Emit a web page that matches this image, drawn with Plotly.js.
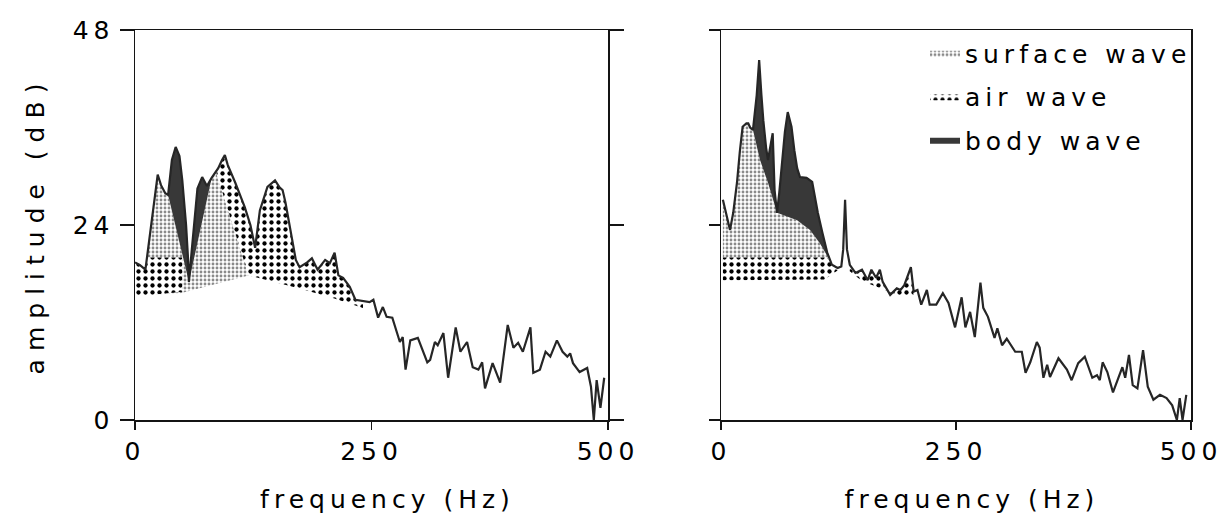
<!DOCTYPE html>
<html>
<head>
<meta charset="utf-8">
<script src="https://cdn.plot.ly/plotly-3.0.1.min.js"></script>
<style>
  html, body { margin: 0; padding: 0; background: #fff; }
  svg text { letter-spacing: 5px; }
  svg text.ytitle { letter-spacing: 8px; }
  #plot .g-xtitle text, #plot .g-x2title text { transform: translateX(16px); }
</style>
</head>
<body>
<div id="plot" style="width:1226px;height:523px;"></div>
<script>
// ---------- Left panel: spectrum ----------
const leftFreq = [0,5,11,16,21,24,27.5,32,35,39,43,47,50,54,56,57,60,63,66,71,76,81,88,92,95,98,106,116,122,127,132,140,148,153,156,159,164,170,174,182,187,193,201,206,211,215,220,227,233,241,248,252,257,262,266,272,280,283,286,291,299,309,312,317,320,326,331,339,344,351,357,363,367,370,378,386,394,400,405,410,418,421,428,434,439,446,452,457,460,463,470,478,482,485,488,492,496];
const leftAmp  = [19.4,19.1,18.5,22.8,27.7,30.2,28.9,27.9,27.7,32,33.6,32.5,29.5,24,20,17,20.9,25,28.5,29.9,28.8,29.8,31,32,32.6,31.4,29.2,26.2,24,21.2,25.8,28.7,29.5,28.6,28.3,26.8,23.4,19.7,18.8,19.4,19.9,18.5,19.7,19.3,20.6,17.8,17.5,16.4,14.8,14.6,14.5,14.8,12.6,13.9,12.7,12.6,9.6,10.2,6.2,9.8,10.1,7.1,7.4,9.6,9.2,10.7,5.2,11.4,8.4,9.6,6.5,6.2,7.1,3.9,7,4.6,11.7,8.9,9.5,8.4,11.4,5.8,6.2,8.4,7.8,9.8,8.4,7.8,8.2,7,5.9,6.4,4.1,0,4.9,1.5,5.2];

// Left panel wave regions (outline vertices, Hz / dB)
const leftSurfaceF = [11,16,21,24,27.5,32,35,57,81,86,120,48,11];
const leftSurfaceA = [18.5,22.8,27.7,30.2,28.9,27.9,27.7,17,29.8,30.4,17.8,15.6,15.4];
const leftAir1F = [0.5,5,11,13.5,50,50,0.5];
const leftAir1A = [19.3,19.1,18.5,20,20,15.8,15.2];
const leftAir2F = [86,88,92,95,98,106,116,122,127,132,140,148,153,156,159,164,170,174,182,187,193,201,206,211,215,220,227,233,241,241,210,174,120];
const leftAir2A = [30.4,31,32,32.6,31.4,29.2,26.2,24,21.2,25.8,28.7,29.5,28.6,28.3,26.8,23.4,19.7,18.8,19.4,19.9,18.5,19.7,19.3,20.6,17.8,17.5,16.4,14.8,14.6,13.8,15,16.2,17.8];
const leftBody1F = [35,39,43,47,50,54,56,57];
const leftBody1A = [27.7,32,33.6,32.5,29.5,24,20,17];
const leftBody2F = [57,60,63,66,71,76,81];
const leftBody2A = [17,20.9,25,28.5,29.9,28.8,29.8];

// ---------- Right panel: spectrum ----------
const rightFreq = [2,6,9.6,13,17,20,23,27,29,31,34,38,40.6,43,45,48,50,53,55,57,59.6,62,65,68,71,75,78,81,84,91,97,100,103,108,113,118,124,128,130,132,134,137,143,150,156,160,165,169,172,180,187,191,195,202,205,209,213,219,222,229,236,242,249,256,260,265,270,276,279,284,291,294,299,304,313,320,324,329,336,339,343,347,350,359,368,373,380,387,395,400,403,406,411,417,427,430,434,438,443,449,454,460,467,474,480,485,488,491,495];
const rightAmp  = [27.1,25,23.4,25.5,29.2,33,36.1,36.5,36.5,36,35.7,40,44.3,40,36.9,33.5,32,34,35.3,28.3,25.5,28,31.6,35.5,37.9,36.1,33.2,31,29.9,29.8,29.3,27.5,25.5,23,20.6,19.1,18.7,18.9,21,27.1,21,19.1,18.1,18.5,17.2,18.5,17.5,18.5,17,15.4,16.2,16,16.6,18.8,15.8,16,14.2,16,14.2,14.2,15.6,14.4,11.4,15.1,11.4,13.3,10.2,16.9,13.8,12.7,10.1,11.3,9.2,10,8.4,8.4,5.8,7.1,9.6,8.9,5.2,6.8,5.3,7.6,6.2,4.9,7,7.8,5.2,5.5,4.9,7.1,5.9,3.4,6.5,5.2,8,4.3,3.9,8.6,4.1,2.5,3.1,2.7,1.8,0,2.7,0,3.1];

// Right panel wave regions
const rightSurfaceF = [2,6,9.6,13,17,20,23,27,29,31,34,41.5,50,59.6,66,81,94.7,105,114,114,2];
const rightSurfaceA = [27.1,25,23.4,25.5,29.2,33,36.1,36.5,36.5,36,35.7,32,29.2,25.5,25.3,24.6,23.4,21.8,20,19.5,19.5];
const rightAir1F = [2,113,119,124,110,2];
const rightAir1A = [20,20,19,18.4,17.3,17.2];
const rightAir2F = [137,143,150,156,160,165,169,172,180,187,191,195,202,205,205,190,170,150,137];
const rightAir2A = [19.1,18.1,18.5,17.2,18.5,17.5,18.5,17,15.4,16.2,16,16.6,18.8,15.8,15.2,15.3,16.2,17.1,18.3];
const rightBodyF = [34,38,40.6,43,45,48,50,53,55,57,59.6,62,65,68,71,75,78,81,84,91,97,100,103,108,113,114,105,94.7,81,66,59.6,50,41.5];
const rightBodyA = [35.7,40,44.3,40,36.9,33.5,32,34,35.3,28.3,25.5,28,31.6,35.5,37.9,36.1,33.2,31,29.9,29.8,29.3,27.5,25.5,23,20.6,20,21.8,23.4,24.6,25.3,25.5,29.2,32];

const legendNames = ['surface wave', 'air wave', 'body wave'];
const tickVals = [0, 250, 500];
const ampTicks = [0, 24, 48];

// ---------- styles ----------
const INK = '#141414';
const surfacePattern = {shape: '.', fgcolor: '#8a8a8a', bgcolor: '#ffffff', size: 4, solidity: 0.4};
const airPattern = {shape: '.', fgcolor: '#000000', bgcolor: '#ffffff', size: 7, solidity: 0.3};
const bodyColor = '#383838';

function region(f, a, kind, xa, ya, show) {
  const t = {
    x: f, y: a, xaxis: xa, yaxis: ya, type: 'scatter', mode: 'lines',
    fill: 'toself', line: {width: 0, color: 'rgba(0,0,0,0)'},
    hoverinfo: 'skip', legendgroup: kind, showlegend: show
  };
  if (kind === 'surface') { t.name = legendNames[0]; t.fillpattern = surfacePattern; t.fillcolor = '#ffffff'; t.legendrank = 1; }
  if (kind === 'air') { t.name = legendNames[1]; t.fillpattern = airPattern; t.fillcolor = '#ffffff'; t.legendrank = 2; }
  if (kind === 'body') { t.name = legendNames[2]; t.fillcolor = bodyColor; t.legendrank = 3; }
  return t;
}
function spectrum(f, a, xa, ya) {
  return {x: f, y: a, xaxis: xa, yaxis: ya, type: 'scatter', mode: 'lines',
          line: {color: '#262626', width: 2.2}, showlegend: false, hoverinfo: 'x+y'};
}

const data = [
  region(leftSurfaceF, leftSurfaceA, 'surface', 'x', 'y', true),
  region(leftAir1F, leftAir1A, 'air', 'x', 'y', true),
  region(leftAir2F, leftAir2A, 'air', 'x', 'y', false),
  region(leftBody1F, leftBody1A, 'body', 'x', 'y', true),
  region(leftBody2F, leftBody2A, 'body', 'x', 'y', false),
  spectrum(leftFreq, leftAmp, 'x', 'y'),
  region(rightSurfaceF, rightSurfaceA, 'surface', 'x2', 'y2', false),
  region(rightAir1F, rightAir1A, 'air', 'x2', 'y2', false),
  region(rightAir2F, rightAir2A, 'air', 'x2', 'y2', false),
  region(rightBodyF, rightBodyA, 'body', 'x2', 'y2', false),
  spectrum(rightFreq, rightAmp, 'x2', 'y2')
];

const font = {family: 'DejaVu Sans, sans-serif', size: 25, color: '#000'};
const W = 1226;
function xAxis(d0, d1, anchor) {
  return {
    domain: [d0 / W, d1 / W], range: [0, 500], anchor: anchor,
    tickmode: 'array', tickvals: tickVals, ticktext: tickVals.map(String),
    ticks: 'outside', ticklen: 8, tickwidth: 1.5, tickcolor: INK,
    showline: true, linecolor: INK, linewidth: 1.5, mirror: true,
    showgrid: false, zeroline: false, ticklabelstandoff: 0,
    tickfont: font, automargin: true,
    title: {text: 'frequency (Hz)', font: font, standoff: 26}
  };
}
const layout = {
  width: 1226, height: 523,
  margin: {l: 0, r: 0, t: 30, b: 103, autoexpand: false},
  paper_bgcolor: '#ffffff', plot_bgcolor: '#ffffff',
  font: font,
  xaxis: xAxis(135, 608, 'y'),
  xaxis2: xAxis(721, 1191, 'y2'),
  yaxis: {
    domain: [0, 1], range: [0, 48], anchor: 'x',
    tickmode: 'array', tickvals: ampTicks, ticktext: ampTicks.map(String),
    ticks: 'outside', ticklen: 14, tickwidth: 1.5, tickcolor: INK,
    showline: true, linecolor: INK, linewidth: 1.5, mirror: 'ticks',
    showgrid: false, zeroline: false, tickfont: font, automargin: true,
    title: {text: 'amplitude (dB)', font: font, standoff: 21}
  },
  yaxis2: {
    domain: [0, 1], range: [0, 48], anchor: 'x2',
    tickmode: 'array', tickvals: ampTicks, showticklabels: false,
    ticks: 'outside', ticklen: 11, tickwidth: 1.5, tickcolor: INK,
    showline: true, linecolor: INK, linewidth: 1.5, mirror: true,
    showgrid: false, zeroline: false
  },
  showlegend: true,
  legend: {
    x: 925 / W, y: 1.0, xanchor: 'left', yanchor: 'top',
    bgcolor: 'rgba(0,0,0,0)', borderwidth: 0,
    font: font, tracegroupgap: 8, itemwidth: 30
  }
};

Plotly.newPlot('plot', data, layout, {staticPlot: true, displayModeBar: false});
</script>
</body>
</html>
